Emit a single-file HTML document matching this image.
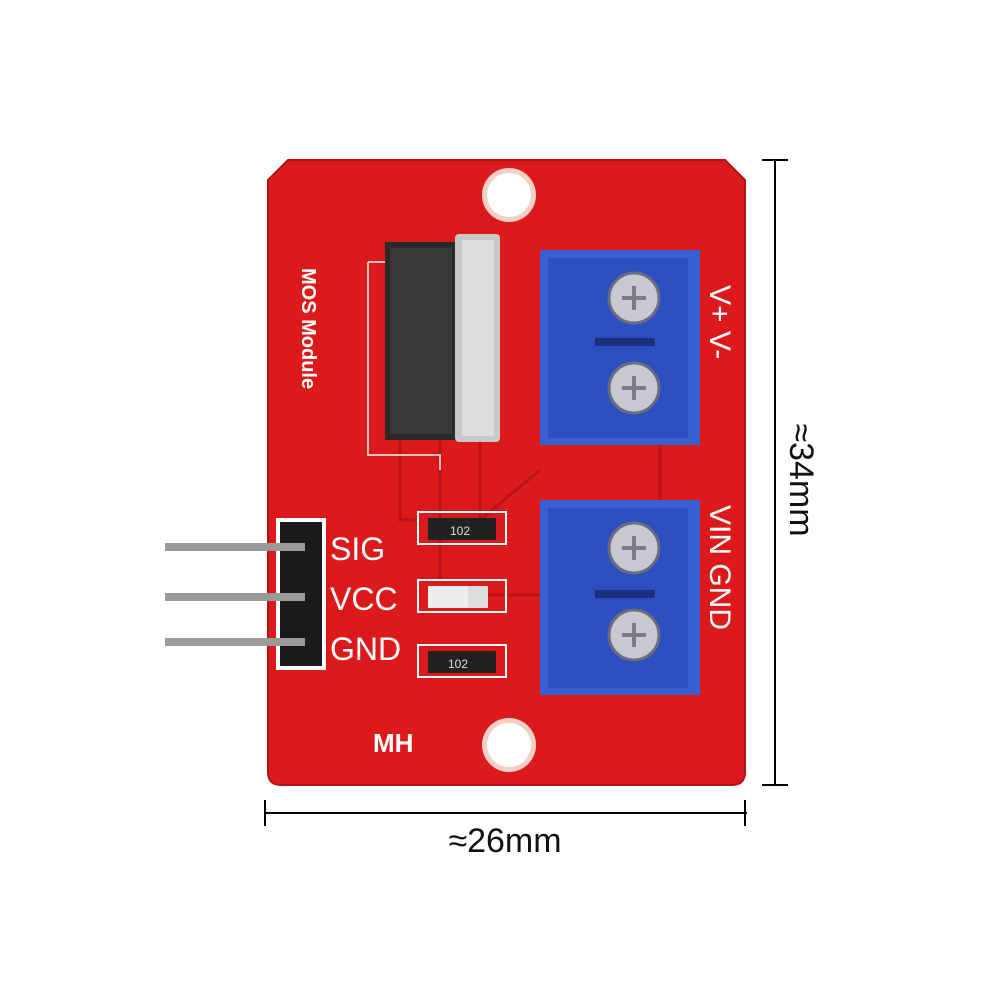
<!DOCTYPE html>
<html><head><meta charset="utf-8"><style>
html,body{margin:0;padding:0;background:#fff;}
svg{display:block}
text{font-family:"Liberation Sans",sans-serif;}
</style></head><body>
<svg width="1000" height="1000" viewBox="0 0 1000 1000" xmlns="http://www.w3.org/2000/svg">
<rect width="1000" height="1000" fill="#fff"/>
<!-- board -->
<path d="M288 160 L725 160 L745 180 L745 772 Q745 785 732 785 L281 785 Q268 785 268 772 L268 180 Z" fill="#dc1a1c"/>
<path d="M288 160 L725 160 L745 180 L745 772 Q745 785 732 785 L281 785 Q268 785 268 772 L268 180 Z" fill="none" stroke="#b01215" stroke-width="2"/>
<!-- holes -->
<circle cx="509" cy="195" r="27" fill="#f2d0c8"/>
<circle cx="509" cy="195" r="22" fill="#fff"/>
<circle cx="509" cy="745" r="27" fill="#f2d0c8"/>
<circle cx="509" cy="745" r="22" fill="#fff"/>
<!-- traces -->
<g stroke="#b81316" stroke-width="3" fill="none">
<path d="M400 440 L400 520 L420 520"/>
<path d="M440 440 L440 580"/>
<path d="M480 440 L480 520 L540 470"/>
<path d="M660 445 L660 500"/>
<path d="M480 595 L540 595"/>
</g>
<!-- silkscreen outline for mosfet -->
<path d="M368 262 L368 455 L440 455 L440 470 M368 262 L385 262" stroke="#f0c0c0" stroke-width="2" fill="none"/>
<!-- mosfet -->
<rect x="385" y="242" width="72" height="198" fill="#2a2a2a"/>
<rect x="390" y="248" width="62" height="186" fill="#383838"/>
<rect x="455" y="234" width="45" height="208" rx="4" fill="#c8c8c8"/>
<rect x="462" y="240" width="32" height="196" fill="#dcdcdc"/>
<text transform="translate(302,268) rotate(90)" font-size="20" font-weight="bold" fill="#fff">MOS Module</text>
<!-- terminal blocks -->
<g>
<rect x="540" y="250" width="160" height="195" fill="#3a5fd0"/>
<rect x="548" y="258" width="140" height="180" fill="#2d4fbf"/>
<rect x="595" y="338" width="60" height="8" fill="#1a2f80"/>
<rect x="540" y="500" width="160" height="195" fill="#3a5fd0"/>
<rect x="548" y="508" width="140" height="180" fill="#2d4fbf"/>
<rect x="595" y="590" width="60" height="8" fill="#1a2f80"/>
</g>
<g fill="#c8c8d0" stroke="#6a6a80" stroke-width="3">
<circle cx="634" cy="298" r="25"/><circle cx="634" cy="388" r="25"/>
<circle cx="634" cy="548" r="25"/><circle cx="634" cy="635" r="25"/>
</g>
<g stroke="#7a7a88" stroke-width="4">
<path d="M622 298h24M634 286v24"/><path d="M622 388h24M634 376v24"/>
<path d="M622 548h24M634 536v24"/><path d="M622 635h24M634 623v24"/>
</g>
<text transform="translate(710,285) rotate(90)" font-size="30" fill="#fff">V+ V-</text>
<text transform="translate(710,505) rotate(90)" font-size="30" fill="#fff">VIN GND</text>
<!-- SMD parts -->
<rect x="418" y="512" width="88" height="32" fill="none" stroke="#fff" stroke-width="2"/>
<rect x="428" y="518" width="68" height="22" fill="#222"/>
<text x="450" y="535" font-size="12" fill="#ddd">102</text>
<rect x="418" y="580" width="88" height="32" fill="none" stroke="#fff" stroke-width="2"/>
<rect x="428" y="586" width="40" height="22" fill="#eee"/>
<rect x="468" y="586" width="20" height="22" fill="#ddd"/>
<rect x="418" y="645" width="88" height="32" fill="none" stroke="#fff" stroke-width="2"/>
<rect x="428" y="651" width="68" height="22" fill="#222"/>
<text x="448" y="668" font-size="12" fill="#ddd">102</text>
<!-- header -->
<rect x="276" y="518" width="50" height="152" fill="#fff"/>
<rect x="280" y="522" width="42" height="144" fill="#1a1a1a"/>
<g fill="#9a9a9a">
<rect x="165" y="543" width="140" height="8"/>
<rect x="165" y="593" width="140" height="8"/>
<rect x="165" y="638" width="140" height="8"/>
</g>
<text x="330" y="560" font-size="32" fill="#fff">SIG</text>
<text x="330" y="610" font-size="32" fill="#fff">VCC</text>
<text x="330" y="660" font-size="32" fill="#fff">GND</text>
<text x="373" y="752" font-size="26" font-weight="bold" fill="#fff" font-family="Liberation Serif">MH</text>
<!-- dimensions -->
<g stroke="#000" stroke-width="2">
<line x1="775" y1="160" x2="775" y2="785"/>
<line x1="762" y1="160" x2="788" y2="160"/>
<line x1="762" y1="785" x2="788" y2="785"/>
<line x1="265" y1="813" x2="747" y2="813"/>
<line x1="265" y1="800" x2="265" y2="826"/>
<line x1="745" y1="800" x2="745" y2="826"/>
</g>
<text x="505" y="852" font-size="34" fill="#111" text-anchor="middle">≈26mm</text>
<text transform="translate(790,480) rotate(90)" font-size="34" fill="#111" text-anchor="middle">≈34mm</text>
</svg>
</body></html>
